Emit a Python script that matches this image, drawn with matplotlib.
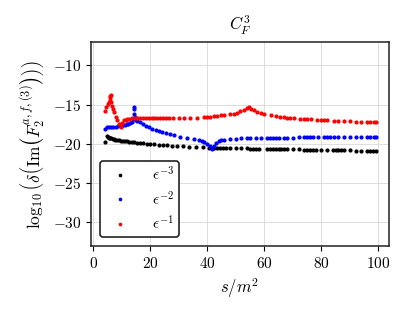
import matplotlib
matplotlib.use("Agg")
import matplotlib.pyplot as plt

params = {
    "font.family": "serif",
    "font.serif": ["cmr10"],
    "mathtext.fontset": "cm",
    "axes.formatter.use_mathtext": True,
    "font.size": 11,
    "axes.unicode_minus": True,
}
plt.rcParams.update(params)

# eps^-3
x_m3 = [4.0, 5.0, 5.3, 5.6, 6.0, 6.4, 6.8, 7.3, 7.8, 8.4, 9.0, 9.6, 10.3, 11.0,
        11.8, 12.6, 13.5, 14.4, 15.4, 16.5, 17.6, 18.8, 20.0, 21.5, 23.0, 24.5,
        26.0, 27.5, 29.5, 31.5, 33.5, 36.0, 38.5, 40.5, 41.5, 42.5, 43.5, 44.5,
        45.5, 46.5, 48.0, 50.0, 52.0, 54.0, 55.0, 56.0, 57.0, 58.0, 61.0, 62.0,
        63.0, 64.0, 65.0, 66.0, 67.0, 68.0, 70.0, 72.0, 74.0, 75.0, 76.0, 77.0,
        78.0, 80.0, 82.0, 84.0, 85.0, 86.0, 87.0, 88.0, 90.0, 92.0, 94.0, 96.0,
        97.0, 98.0, 99.0]
y_m3 = [-19.8, -19.0, -19.1, -19.2, -19.25, -19.3, -19.35, -19.4, -19.45, -19.5,
        -19.55, -19.58, -19.62, -19.65, -19.68, -19.72, -19.75, -19.78, -19.82,
        -19.86, -19.9, -19.95, -20.0, -20.05, -20.1, -20.14, -20.18, -20.22,
        -20.27, -20.3, -20.33, -20.38, -20.42, -20.45, -20.45, -20.47, -20.48,
        -20.5, -20.5, -20.52, -20.53, -20.55, -20.56, -20.57, -20.58, -20.59,
        -20.6, -20.6, -20.62, -20.63, -20.64, -20.65, -20.65, -20.66, -20.66,
        -20.67, -20.68, -20.7, -20.71, -20.72, -20.72, -20.73, -20.74, -20.75,
        -20.77, -20.78, -20.79, -20.8, -20.8, -20.81, -20.82, -20.84, -20.85,
        -20.86, -20.87, -20.88, -20.88]

# eps^-2
x_m2 = [4.0, 5.0, 5.6, 6.3, 7.0, 7.9, 8.8, 9.6, 10.3, 11.0, 11.7, 12.3, 12.9,
        13.5, 14.0, 14.2, 14.3, 14.4, 14.6, 15.0, 15.5, 16.3, 17.3, 18.5, 19.6,
        20.8, 22.0, 23.2, 24.3, 25.5, 27.0, 28.4, 30.6, 33.0, 35.3, 37.0, 38.2,
        39.0, 40.0, 40.8, 41.7, 42.4, 43.2, 44.0, 44.7, 46.0, 48.1, 50.0, 52.0,
        54.0, 55.1, 57.0, 59.0, 61.0, 62.0, 63.0, 64.0, 65.0, 66.9, 68.0, 70.0,
        72.0, 74.0, 75.0, 76.0, 77.0, 79.0, 81.0, 82.0, 83.0, 84.3, 86.0, 88.0,
        90.0, 92.0, 94.0, 96.0, 97.0, 98.3, 99.0]
y_m2 = [-18.15, -17.9, -17.88, -17.85, -17.83, -17.8, -17.75, -17.7, -17.62,
        -17.55, -17.48, -17.4, -17.3, -17.15, -16.8, -16.2, -15.6, -15.3, -16.5,
        -16.95, -17.05, -17.25, -17.5, -17.72, -17.9, -18.05, -18.2, -18.35,
        -18.5, -18.62, -18.75, -18.9, -19.05, -19.22, -19.4, -19.55, -19.65,
        -19.8, -20.0, -20.25, -20.6, -20.3, -19.9, -19.65, -19.55, -19.48,
        -19.4, -19.35, -19.3, -19.27, -19.25, -19.24, -19.23, -19.22, -19.21,
        -19.21, -19.2, -19.2, -19.2, -19.19, -19.18, -19.17, -19.16, -19.16,
        -19.15, -19.15, -19.14, -19.13, -19.12, -19.12, -19.1, -19.1, -19.1,
        -19.09, -19.09, -19.09, -19.08, -19.08, -19.08, -19.08]

# eps^-1
x_m1 = [4.0, 4.6, 5.1, 5.6, 5.9, 6.0, 6.05, 6.1, 6.2, 6.5, 6.8, 7.3, 7.9, 8.5,
        9.1, 9.7, 10.2, 10.8, 11.4, 12.0, 12.7, 13.7, 14.5, 15.5, 16.5, 17.5,
        18.5, 19.5, 20.5, 21.5, 22.5, 23.5, 24.5, 25.5, 26.5, 28.0, 30.0, 32.0,
        34.0, 36.4, 38.8, 40.0, 41.0, 42.3, 43.5, 44.7, 46.0, 48.0, 49.3, 50.5,
        51.6, 52.8, 53.8, 54.5, 55.3, 56.3, 57.5, 58.7, 60.0, 62.2, 64.0, 65.5,
        66.9, 68.0, 69.0, 70.5, 72.6, 74.0, 75.0, 76.5, 78.5, 80.0, 81.0, 82.0,
        84.3, 86.0, 88.0, 90.1, 92.0, 94.0, 96.0, 97.0, 98.3, 99.0]
y_m1 = [-15.75, -15.3, -14.9, -14.7, -14.5, -14.2, -13.95, -13.7, -14.6, -15.1,
        -15.5, -15.9, -16.55, -17.0, -17.45, -17.8, -17.3, -17.0, -16.9, -16.85,
        -16.78, -16.75, -16.72, -16.7, -16.7, -16.7, -16.7, -16.7, -16.7,
        -16.7, -16.7, -16.7, -16.7, -16.7, -16.7, -16.7, -16.7, -16.69, -16.68,
        -16.65, -16.58, -16.55, -16.52, -16.48, -16.42, -16.35, -16.3, -16.2,
        -16.12, -16.0, -15.85, -15.65, -15.45, -15.3, -15.5, -15.7, -15.95,
        -16.1, -16.2, -16.32, -16.42, -16.5, -16.58, -16.63, -16.67, -16.72,
        -16.78, -16.82, -16.85, -16.88, -16.92, -16.95, -16.97, -16.99, -17.02,
        -17.05, -17.08, -17.12, -17.15, -17.18, -17.21, -17.22, -17.25, -17.26]

fig = plt.figure(figsize=(4.1, 3.13), dpi=100)
ax = fig.add_axes([0.222, 0.214, 0.727, 0.652])

ax.plot(x_m3, y_m3, ".", color="black", markersize=4, label=r"$\epsilon^{-3}$")
ax.plot(x_m2, y_m2, ".", color="blue", markersize=4, label=r"$\epsilon^{-2}$")
ax.plot(x_m1, y_m1, ".", color="red", markersize=4, label=r"$\epsilon^{-1}$")

ax.set_ylim(-33, -7)
ax.set_xticks([0, 20, 40, 60, 80, 100])
ax.set_yticks([-30, -25, -20, -15, -10])
ax.grid(True, color="#d8d8d8", linewidth=0.6)
ax.set_axisbelow(True)
for s in ax.spines.values():
    s.set_linewidth(1.1)
    s.set_color("#222222")

ax.set_title(r"$C_F^3$", fontsize=12, pad=8)
ax.set_xlabel(r"$s/m^2$", fontsize=12)
ax.set_ylabel(r"$\log_{10}\left(\delta\left(\mathrm{Im}\left(F_2^{a,f,(3)}\right)\right)\right)$",
              fontsize=12.5)

leg = ax.legend(loc="lower left", markerscale=0.8, handletextpad=1.1,
                borderpad=0.3, labelspacing=0.45, fancybox=True, framealpha=1,
                fontsize=11, borderaxespad=0.6)
leg.get_frame().set_edgecolor("#222222")
leg.get_frame().set_linewidth(1.2)

plt.savefig("out.png")
